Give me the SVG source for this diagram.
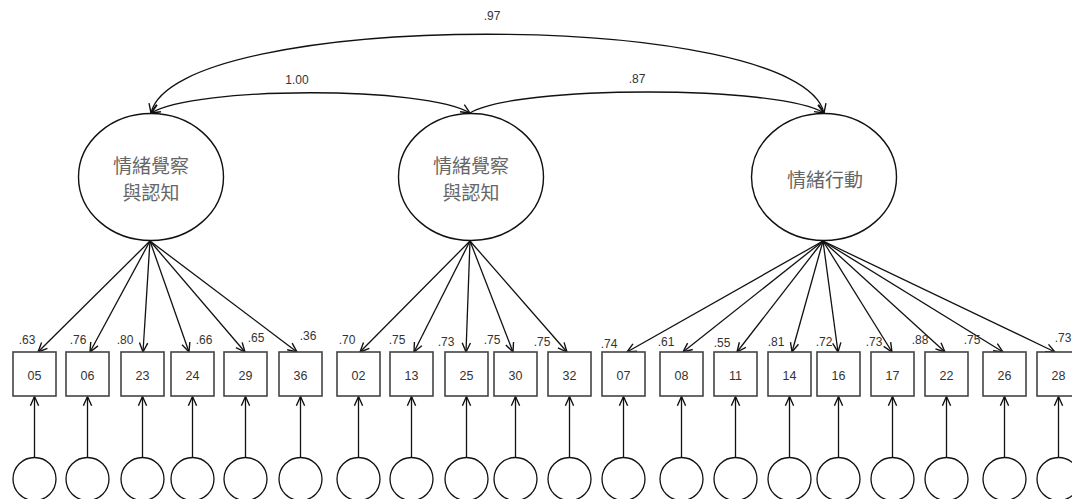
<svg xmlns="http://www.w3.org/2000/svg" width="1072" height="499" viewBox="0 0 1072 499">
<style>
.bg{fill:#ffffff}
.lat{fill:#ffffff;stroke:#111;stroke-width:1.4}
.obs{fill:#ffffff;stroke:#444;stroke-width:1.6}
.err{fill:#ffffff;stroke:#111;stroke-width:1.3}
.ln{fill:none;stroke:#111;stroke-width:1.3}
.cj{font-family:"Noto Sans CJK TC","Noto Sans CJK SC",sans-serif;font-size:19px;fill:#666;text-anchor:middle}
.num{font-family:"Liberation Sans",Arial,sans-serif;font-size:12px;fill:#333;text-anchor:middle}
.bx{font-family:"Liberation Sans",Arial,sans-serif;font-size:12.5px;fill:#333;text-anchor:middle}
</style>
<defs>
<marker id="ah" viewBox="0 0 12 12" refX="11" refY="6" markerWidth="11" markerHeight="11" markerUnits="userSpaceOnUse" orient="auto-start-reverse">
<path d="M1,1.5 L11,6 L1,10.5" fill="none" stroke="#111" stroke-width="1.5"/>
</marker>
</defs>
<rect class="bg" x="0" y="0" width="1072" height="499"/>

<g id="connectors">
<path class="ln" d="M151,113 C175,8 800,8 824,113" marker-start="url(#ah)" marker-end="url(#ah)"/>
<path class="ln" d="M151,113 C195,86 426,86 470,113" marker-start="url(#ah)" marker-end="url(#ah)"/>
<path class="ln" d="M470,113 C515,85 780,85 824,113" marker-end="url(#ah)"/>
<g id="loadings-1">
<line class="ln" x1="150" y1="241" x2="38" y2="352" marker-end="url(#ah)"/>
<line class="ln" x1="150" y1="241" x2="90" y2="352" marker-end="url(#ah)"/>
<line class="ln" x1="150" y1="241" x2="143" y2="352" marker-end="url(#ah)"/>
<line class="ln" x1="150" y1="241" x2="189" y2="352" marker-end="url(#ah)"/>
<line class="ln" x1="150" y1="241" x2="245" y2="352" marker-end="url(#ah)"/>
<line class="ln" x1="150" y1="241" x2="297" y2="352" marker-end="url(#ah)"/>
</g>
<g id="loadings-2">
<line class="ln" x1="470" y1="241" x2="360" y2="352" marker-end="url(#ah)"/>
<line class="ln" x1="470" y1="241" x2="414" y2="352" marker-end="url(#ah)"/>
<line class="ln" x1="470" y1="241" x2="466" y2="352" marker-end="url(#ah)"/>
<line class="ln" x1="470" y1="241" x2="513" y2="352" marker-end="url(#ah)"/>
<line class="ln" x1="470" y1="241" x2="567" y2="352" marker-end="url(#ah)"/>
</g>
<g id="loadings-3">
<line class="ln" x1="823" y1="241" x2="627" y2="352" marker-end="url(#ah)"/>
<line class="ln" x1="823" y1="241" x2="683" y2="352" marker-end="url(#ah)"/>
<line class="ln" x1="823" y1="241" x2="737" y2="352" marker-end="url(#ah)"/>
<line class="ln" x1="823" y1="241" x2="792" y2="352" marker-end="url(#ah)"/>
<line class="ln" x1="823" y1="241" x2="838" y2="352" marker-end="url(#ah)"/>
<line class="ln" x1="823" y1="241" x2="892" y2="352" marker-end="url(#ah)"/>
<line class="ln" x1="823" y1="241" x2="945" y2="352" marker-end="url(#ah)"/>
<line class="ln" x1="823" y1="241" x2="1003" y2="352" marker-end="url(#ah)"/>
<line class="ln" x1="823" y1="241" x2="1055" y2="352" marker-end="url(#ah)"/>
</g>
<g id="error-paths">
<line class="ln" x1="34.5" y1="457" x2="34.5" y2="396.5" marker-end="url(#ah)"/>
<line class="ln" x1="87.5" y1="457" x2="87.5" y2="396.5" marker-end="url(#ah)"/>
<line class="ln" x1="142.5" y1="457" x2="142.5" y2="396.5" marker-end="url(#ah)"/>
<line class="ln" x1="192.5" y1="457" x2="192.5" y2="396.5" marker-end="url(#ah)"/>
<line class="ln" x1="245.5" y1="457" x2="245.5" y2="396.5" marker-end="url(#ah)"/>
<line class="ln" x1="300.5" y1="457" x2="300.5" y2="396.5" marker-end="url(#ah)"/>
<line class="ln" x1="358.5" y1="457" x2="358.5" y2="396.5" marker-end="url(#ah)"/>
<line class="ln" x1="411.5" y1="457" x2="411.5" y2="396.5" marker-end="url(#ah)"/>
<line class="ln" x1="466.5" y1="457" x2="466.5" y2="396.5" marker-end="url(#ah)"/>
<line class="ln" x1="515.5" y1="457" x2="515.5" y2="396.5" marker-end="url(#ah)"/>
<line class="ln" x1="569.5" y1="457" x2="569.5" y2="396.5" marker-end="url(#ah)"/>
<line class="ln" x1="623.5" y1="457" x2="623.5" y2="396.5" marker-end="url(#ah)"/>
<line class="ln" x1="681.5" y1="457" x2="681.5" y2="396.5" marker-end="url(#ah)"/>
<line class="ln" x1="735.5" y1="457" x2="735.5" y2="396.5" marker-end="url(#ah)"/>
<line class="ln" x1="789.5" y1="457" x2="789.5" y2="396.5" marker-end="url(#ah)"/>
<line class="ln" x1="838.5" y1="457" x2="838.5" y2="396.5" marker-end="url(#ah)"/>
<line class="ln" x1="892.5" y1="457" x2="892.5" y2="396.5" marker-end="url(#ah)"/>
<line class="ln" x1="946.5" y1="457" x2="946.5" y2="396.5" marker-end="url(#ah)"/>
<line class="ln" x1="1004.5" y1="457" x2="1004.5" y2="396.5" marker-end="url(#ah)"/>
<line class="ln" x1="1058.5" y1="457" x2="1058.5" y2="396.5" marker-end="url(#ah)"/>
</g>
</g>

<g id="correlation-labels">
<text class="num" x="492" y="20">.97</text>
<text class="num" x="297" y="84">1.00</text>
<text class="num" x="637" y="83">.87</text>
</g>

<g id="F1">
<ellipse class="lat" cx="151" cy="177" rx="72.5" ry="63.5"/>
<text class="cj" x="151" y="173">情緒覺察</text>
<text class="cj" x="151" y="200">與認知</text>
</g>
<g id="F2">
<ellipse class="lat" cx="471" cy="177" rx="72.5" ry="63.5"/>
<text class="cj" x="471" y="173">情緒覺察</text>
<text class="cj" x="471" y="200">與認知</text>
</g>
<g id="F3">
<ellipse class="lat" cx="824" cy="177" rx="72.5" ry="63.5"/>
<text class="cj" x="825" y="187">情緒行動</text>
</g>

<g id="items">
<g id="i05"><rect class="obs" x="13" y="352" width="43" height="44"/><text class="bx" x="34.5" y="380">05</text></g>
<g id="i06"><rect class="obs" x="66" y="352" width="43" height="44"/><text class="bx" x="87.5" y="380">06</text></g>
<g id="i23"><rect class="obs" x="121" y="352" width="43" height="44"/><text class="bx" x="142.5" y="380">23</text></g>
<g id="i24"><rect class="obs" x="171" y="352" width="43" height="44"/><text class="bx" x="192.5" y="380">24</text></g>
<g id="i29"><rect class="obs" x="224" y="352" width="43" height="44"/><text class="bx" x="245.5" y="380">29</text></g>
<g id="i36"><rect class="obs" x="279" y="352" width="43" height="44"/><text class="bx" x="300.5" y="380">36</text></g>
<g id="i02"><rect class="obs" x="337" y="352" width="43" height="44"/><text class="bx" x="358.5" y="380">02</text></g>
<g id="i13"><rect class="obs" x="390" y="352" width="43" height="44"/><text class="bx" x="411.5" y="380">13</text></g>
<g id="i25"><rect class="obs" x="445" y="352" width="43" height="44"/><text class="bx" x="466.5" y="380">25</text></g>
<g id="i30"><rect class="obs" x="494" y="352" width="43" height="44"/><text class="bx" x="515.5" y="380">30</text></g>
<g id="i32"><rect class="obs" x="548" y="352" width="43" height="44"/><text class="bx" x="569.5" y="380">32</text></g>
<g id="i07"><rect class="obs" x="602" y="352" width="43" height="44"/><text class="bx" x="623.5" y="380">07</text></g>
<g id="i08"><rect class="obs" x="660" y="352" width="43" height="44"/><text class="bx" x="681.5" y="380">08</text></g>
<g id="i11"><rect class="obs" x="714" y="352" width="43" height="44"/><text class="bx" x="735.5" y="380">11</text></g>
<g id="i14"><rect class="obs" x="768" y="352" width="43" height="44"/><text class="bx" x="789.5" y="380">14</text></g>
<g id="i16"><rect class="obs" x="817" y="352" width="43" height="44"/><text class="bx" x="838.5" y="380">16</text></g>
<g id="i17"><rect class="obs" x="871" y="352" width="43" height="44"/><text class="bx" x="892.5" y="380">17</text></g>
<g id="i22"><rect class="obs" x="925" y="352" width="43" height="44"/><text class="bx" x="946.5" y="380">22</text></g>
<g id="i26"><rect class="obs" x="983" y="352" width="43" height="44"/><text class="bx" x="1004.5" y="380">26</text></g>
<g id="i28"><rect class="obs" x="1037" y="352" width="43" height="44"/><text class="bx" x="1058.5" y="380">28</text></g>
</g>

<g id="loading-labels">
<text class="num" x="27" y="344">.63</text>
<text class="num" x="78" y="344">.76</text>
<text class="num" x="125" y="344">.80</text>
<text class="num" x="204" y="344">.66</text>
<text class="num" x="256" y="342">.65</text>
<text class="num" x="308" y="340">.36</text>
<text class="num" x="347" y="344">.70</text>
<text class="num" x="397" y="344">.75</text>
<text class="num" x="446" y="346">.73</text>
<text class="num" x="492" y="344">.75</text>
<text class="num" x="542" y="346">.75</text>
<text class="num" x="609" y="348">.74</text>
<text class="num" x="666" y="346">.61</text>
<text class="num" x="722" y="347">.55</text>
<text class="num" x="776" y="346">.81</text>
<text class="num" x="824" y="346">.72</text>
<text class="num" x="874" y="346">.73</text>
<text class="num" x="920" y="344">.88</text>
<text class="num" x="972" y="344">.75</text>
<text class="num" x="1063" y="342">.73</text>
</g>

<g id="errors">
<circle id="e05" class="err" cx="34.5" cy="479" r="21.5"/>
<circle id="e06" class="err" cx="87.5" cy="479" r="21.5"/>
<circle id="e23" class="err" cx="142.5" cy="479" r="21.5"/>
<circle id="e24" class="err" cx="192.5" cy="479" r="21.5"/>
<circle id="e29" class="err" cx="245.5" cy="479" r="21.5"/>
<circle id="e36" class="err" cx="300.5" cy="479" r="21.5"/>
<circle id="e02" class="err" cx="358.5" cy="479" r="21.5"/>
<circle id="e13" class="err" cx="411.5" cy="479" r="21.5"/>
<circle id="e25" class="err" cx="466.5" cy="479" r="21.5"/>
<circle id="e30" class="err" cx="515.5" cy="479" r="21.5"/>
<circle id="e32" class="err" cx="569.5" cy="479" r="21.5"/>
<circle id="e07" class="err" cx="623.5" cy="479" r="21.5"/>
<circle id="e08" class="err" cx="681.5" cy="479" r="21.5"/>
<circle id="e11" class="err" cx="735.5" cy="479" r="21.5"/>
<circle id="e14" class="err" cx="789.5" cy="479" r="21.5"/>
<circle id="e16" class="err" cx="838.5" cy="479" r="21.5"/>
<circle id="e17" class="err" cx="892.5" cy="479" r="21.5"/>
<circle id="e22" class="err" cx="946.5" cy="479" r="21.5"/>
<circle id="e26" class="err" cx="1004.5" cy="479" r="21.5"/>
<circle id="e28" class="err" cx="1058.5" cy="479" r="21.5"/>
</g>
</svg>
